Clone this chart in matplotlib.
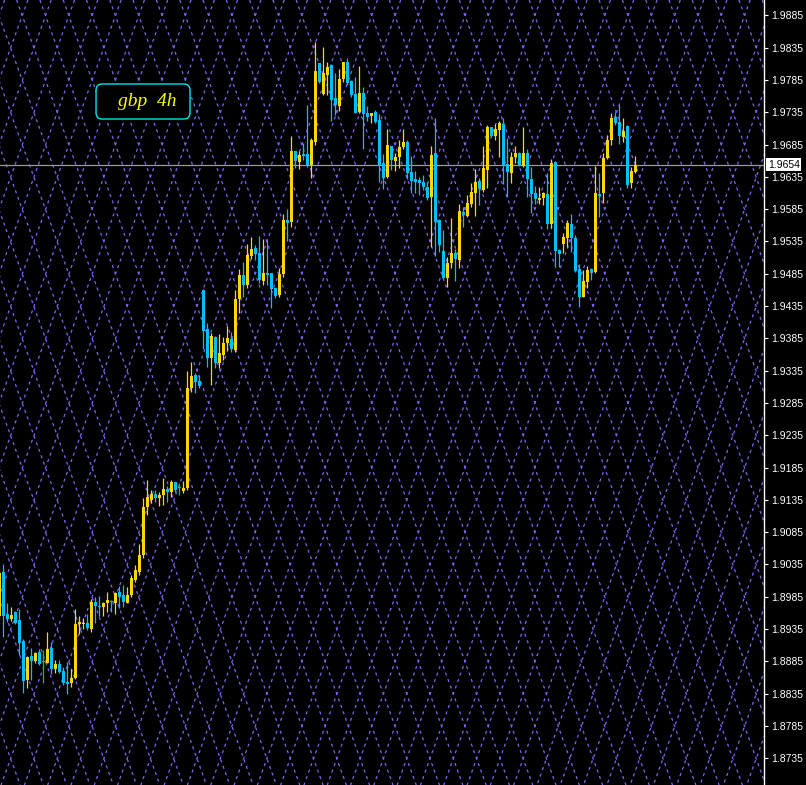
# GBP 4h candlestick chart, MetaTrader style

import numpy as np
import matplotlib
matplotlib.use('Agg')
import matplotlib.pyplot as plt
from matplotlib.collections import LineCollection
from matplotlib.patches import FancyBboxPatch
from matplotlib.transforms import Affine2D, blended_transform_factory

# Candle data (bar index -1 is the one cut off at the left edge)
opens = [1.8955, 1.9023, 1.8958, 1.8950, 1.8961, 1.8949, 1.8916, 1.8856, 1.8893, 1.8886,
         1.8899, 1.8884, 1.8883, 1.8906, 1.8873, 1.8881, 1.8870, 1.8853, 1.8851, 1.8859,
         1.8943, 1.8943, 1.8944, 1.8935, 1.8977, 1.8971, 1.8969, 1.8975, 1.8978, 1.8975,
         1.8992, 1.8988, 1.8975, 1.8988, 1.9011, 1.9023, 1.9050, 1.9124, 1.9135, 1.9144,
         1.9138, 1.9143, 1.9152, 1.9147, 1.9163, 1.9153, 1.9149, 1.9153, 1.9308, 1.9328,
         1.9319, 1.9460, 1.9399, 1.9355, 1.9387, 1.9347, 1.9359, 1.9378, 1.9384, 1.9367,
         1.9446, 1.9483, 1.9467, 1.9512, 1.9525, 1.9517, 1.9474, 1.9486, 1.9486, 1.9463,
         1.9452, 1.9484, 1.9568, 1.9565, 1.9675, 1.9658, 1.9670, 1.9670, 1.9653, 1.9689,
         1.9811, 1.9763, 1.9793, 1.9808, 1.9757, 1.9745, 1.9786, 1.9813, 1.9783, 1.9763,
         1.9735, 1.9765, 1.9734, 1.9729, 1.9735, 1.9723, 1.9656, 1.9635, 1.9683, 1.9659,
         1.9666, 1.9681, 1.9689, 1.9642, 1.9632, 1.9630, 1.9627, 1.9619, 1.9604, 1.9672,
         1.9568, 1.9520, 1.9478, 1.9502, 1.9517, 1.9506, 1.9581, 1.9574, 1.9593, 1.9610,
         1.9629, 1.9615, 1.9646, 1.9712, 1.9698, 1.9707, 1.9717, 1.9655, 1.9641, 1.9666,
         1.9672, 1.9652, 1.9672, 1.9632, 1.9610, 1.9599, 1.9602, 1.9608, 1.9562, 1.9658,
         1.9522, 1.9531, 1.9540, 1.9562, 1.9540, 1.9492, 1.9449, 1.9472, 1.9492, 1.9488,
         1.9608, 1.9610, 1.9664, 1.9692, 1.9728, 1.9720, 1.9697, 1.9714, 1.9625, 1.9642]

highs = [1.9026, 1.9036, 1.8975, 1.8969, 1.8963, 1.8966, 1.8920, 1.8893, 1.8906, 1.8899,
         1.8904, 1.8902, 1.8931, 1.8915, 1.8887, 1.8887, 1.8876, 1.8884, 1.8873, 1.8966,
         1.8955, 1.8952, 1.8958, 1.8981, 1.8984, 1.8986, 1.8977, 1.8992, 1.8980, 1.8992,
         1.9001, 1.9003, 1.9000, 1.9019, 1.9034, 1.9067, 1.9138, 1.9166, 1.9150, 1.9150,
         1.9147, 1.9169, 1.9157, 1.9166, 1.9163, 1.9161, 1.9164, 1.9334, 1.9348, 1.9331,
         1.9328, 1.9461, 1.9409, 1.9393, 1.9389, 1.9392, 1.9387, 1.9404, 1.9395, 1.9460,
         1.9492, 1.9503, 1.9531, 1.9542, 1.9529, 1.9543, 1.9539, 1.9537, 1.9486, 1.9464,
         1.9494, 1.9577, 1.9585, 1.9698, 1.9675, 1.9675, 1.9687, 1.9746, 1.9695, 1.9844,
         1.9811, 1.9836, 1.9813, 1.9810, 1.9796, 1.9802, 1.9813, 1.9819, 1.9785, 1.9790,
         1.9807, 1.9774, 1.9745, 1.9734, 1.9739, 1.9732, 1.9670, 1.9709, 1.9683, 1.9672,
         1.9692, 1.9709, 1.9692, 1.9667, 1.9644, 1.9635, 1.9638, 1.9627, 1.9683, 1.9726,
         1.9570, 1.9553, 1.9511, 1.9571, 1.9523, 1.9593, 1.9588, 1.9607, 1.9625, 1.9647,
         1.9633, 1.9683, 1.9715, 1.9712, 1.9717, 1.9721, 1.9726, 1.9695, 1.9673, 1.9683,
         1.9673, 1.9712, 1.9678, 1.9650, 1.9621, 1.9619, 1.9611, 1.9641, 1.9663, 1.9659,
         1.9523, 1.9548, 1.9568, 1.9577, 1.9545, 1.9500, 1.9491, 1.9497, 1.9494, 1.9652,
         1.9641, 1.9672, 1.9700, 1.9734, 1.9735, 1.9746, 1.9726, 1.9715, 1.9650, 1.9667]

lows = [1.8949, 1.8923, 1.8946, 1.8947, 1.8943, 1.8895, 1.8836, 1.8844, 1.8856, 1.8883,
        1.8879, 1.8852, 1.8883, 1.8865, 1.8867, 1.8867, 1.8848, 1.8834, 1.8846, 1.8857,
        1.8928, 1.8935, 1.8933, 1.8930, 1.8944, 1.8955, 1.8955, 1.8961, 1.8961, 1.8959,
        1.8967, 1.8969, 1.8975, 1.8984, 1.9008, 1.9019, 1.9045, 1.9112, 1.9130, 1.9132,
        1.9126, 1.9127, 1.9132, 1.9139, 1.9147, 1.9143, 1.9146, 1.9150, 1.9302, 1.9300,
        1.9308, 1.9368, 1.9341, 1.9313, 1.9339, 1.9339, 1.9351, 1.9367, 1.9364, 1.9364,
        1.9424, 1.9449, 1.9463, 1.9508, 1.9506, 1.9471, 1.9467, 1.9467, 1.9432, 1.9447,
        1.9449, 1.9480, 1.9536, 1.9557, 1.9649, 1.9647, 1.9661, 1.9650, 1.9633, 1.9684,
        1.9780, 1.9762, 1.9762, 1.9721, 1.9731, 1.9737, 1.9782, 1.9777, 1.9759, 1.9734,
        1.9734, 1.9678, 1.9721, 1.9718, 1.9718, 1.9627, 1.9616, 1.9633, 1.9646, 1.9644,
        1.9649, 1.9678, 1.9632, 1.9610, 1.9610, 1.9607, 1.9615, 1.9599, 1.9526, 1.9512,
        1.9519, 1.9477, 1.9464, 1.9494, 1.9474, 1.9494, 1.9557, 1.9573, 1.9588, 1.9574,
        1.9591, 1.9612, 1.9618, 1.9697, 1.9692, 1.9666, 1.9624, 1.9604, 1.9625, 1.9656,
        1.9652, 1.9650, 1.9604, 1.9579, 1.9593, 1.9593, 1.9591, 1.9554, 1.9556, 1.9499,
        1.9496, 1.9517, 1.9526, 1.9519, 1.9488, 1.9434, 1.9449, 1.9463, 1.9475, 1.9486,
        1.9573, 1.9595, 1.9663, 1.9684, 1.9715, 1.9686, 1.9689, 1.9618, 1.9618, 1.9641]

closes = [1.9022, 1.8955, 1.8950, 1.8957, 1.8944, 1.8913, 1.8855, 1.8892, 1.8886, 1.8898,
          1.8881, 1.8884, 1.8904, 1.8873, 1.8881, 1.8868, 1.8851, 1.8850, 1.8859, 1.8943,
          1.8946, 1.8944, 1.8936, 1.8977, 1.8971, 1.8969, 1.8975, 1.8980, 1.8977, 1.8991,
          1.8984, 1.8977, 1.8988, 1.9014, 1.9026, 1.9049, 1.9124, 1.9139, 1.9144, 1.9138,
          1.9143, 1.9152, 1.9147, 1.9163, 1.9150, 1.9153, 1.9153, 1.9308, 1.9327, 1.9317,
          1.9311, 1.9396, 1.9355, 1.9389, 1.9347, 1.9362, 1.9378, 1.9386, 1.9368, 1.9446,
          1.9483, 1.9467, 1.9514, 1.9523, 1.9516, 1.9475, 1.9486, 1.9483, 1.9461, 1.9450,
          1.9484, 1.9568, 1.9564, 1.9675, 1.9659, 1.9669, 1.9667, 1.9653, 1.9692, 1.9799,
          1.9782, 1.9796, 1.9805, 1.9754, 1.9746, 1.9786, 1.9813, 1.9780, 1.9762, 1.9734,
          1.9765, 1.9732, 1.9728, 1.9734, 1.9720, 1.9653, 1.9633, 1.9684, 1.9661, 1.9666,
          1.9681, 1.9689, 1.9641, 1.9629, 1.9627, 1.9625, 1.9619, 1.9602, 1.9669, 1.9565,
          1.9530, 1.9478, 1.9502, 1.9517, 1.9508, 1.9582, 1.9576, 1.9595, 1.9612, 1.9627,
          1.9616, 1.9649, 1.9712, 1.9698, 1.9709, 1.9718, 1.9653, 1.9642, 1.9666, 1.9672,
          1.9653, 1.9672, 1.9632, 1.9608, 1.9601, 1.9602, 1.9610, 1.9562, 1.9656, 1.9520,
          1.9516, 1.9542, 1.9563, 1.9540, 1.9489, 1.9449, 1.9474, 1.9491, 1.9486, 1.9610,
          1.9605, 1.9664, 1.9692, 1.9726, 1.9718, 1.9698, 1.9706, 1.9622, 1.9644, 1.9654]

price_ticks = [1.9885, 1.9835, 1.9785, 1.9735, 1.9685, 1.9635, 1.9585, 1.9535, 1.9485,
               1.9435, 1.9385, 1.9335, 1.9285, 1.9235, 1.9185, 1.9135, 1.9085, 1.9035,
               1.8985, 1.8935, 1.8885, 1.8835, 1.8785, 1.8735]
last_price = 1.9654
chart_label = 'gbp  4h'

o = np.array(opens)
h = np.array(highs)
l = np.array(lows)
c = np.array(closes)
x = np.arange(len(o)) - 1

up_col = '#ffd700'
down_col = '#00bfff'
doji_col = '#00d000'
colors = np.where(c > o, up_col, np.where(c < o, down_col, doji_col))

W, H = 806, 785
fig = plt.figure(figsize=(W / 100, H / 100), dpi=100, facecolor='black')
ax = fig.add_axes([0, 0, 764 / W, 1])
ax.set_facecolor('black')

# diamond dotted grid, laid out in pixel space
px = Affine2D().scale(1 / W, -1 / H).translate(0, 1) + fig.transFigure
r = 11.65 / 32.3
segs = []
for n in range(-40, 50):
    x0 = 663 + 23.3 * n
    segs.append([(x0 - 48 * r, 0), (x0 + (H - 48) * r, H)])
    segs.append([(x0 + 48 * r, 0), (x0 - (H - 48) * r, H)])
grid = LineCollection(segs, colors='#7a66f0', linewidths=0.9,
                      linestyles=[(0, (2.5, 3.0))], transform=px)
ax.add_collection(grid, autolim=False)

# last price line
ax.axhline(last_price, color='#9a9a9a', lw=0.9, zorder=2)

# candles
ax.vlines(x, l, h, colors=colors, lw=0.9, zorder=3)
bottom = np.minimum(o, c)
height = np.maximum(np.abs(c - o), 0.00016)
ax.bar(x, height, width=0.75, bottom=bottom, color=colors, lw=0, zorder=4)

ax.set_xlim(-3.3 / 4, (764 - 3.3) / 4)
ax.set_ylim(1.99087 - H / 6460, 1.99087)

# right price scale
ax.set_xticks([])
ax.yaxis.tick_right()
ax.set_yticks(price_ticks)
ax.set_yticklabels(['%.4f' % t for t in price_ticks], family='Liberation Sans')
ax.tick_params(axis='y', colors='white', labelcolor='white', labelsize=7.5,
               length=3, width=0.8, pad=2)
for s in ['left', 'top', 'bottom']:
    ax.spines[s].set_visible(False)
ax.spines['right'].set_color('white')
ax.spines['right'].set_linewidth(1)

trans = blended_transform_factory(ax.transAxes, ax.transData)
ax.text(1.005, last_price, '%.4f' % last_price, transform=trans, color='black',
        fontsize=7.5, family='Liberation Sans', va='center', ha='left',
        bbox=dict(facecolor='white', edgecolor='none', pad=1.2), zorder=6,
        clip_on=False)

# chart label box
box = FancyBboxPatch((0.1257, 0.8484), 0.123, 0.0446, transform=ax.transAxes,
                     boxstyle='round,pad=0,rounding_size=0.008',
                     mutation_aspect=1.0, facecolor='black',
                     edgecolor='#00e5ee', lw=1, zorder=5)
ax.add_patch(box)
ax.text(0.193, 0.8705, chart_label, transform=ax.transAxes, color='#ffff00',
        fontsize=14, family='Liberation Serif', style='italic',
        ha='center', va='center', zorder=6)

fig.savefig('out.png', dpi=100, facecolor='black')
